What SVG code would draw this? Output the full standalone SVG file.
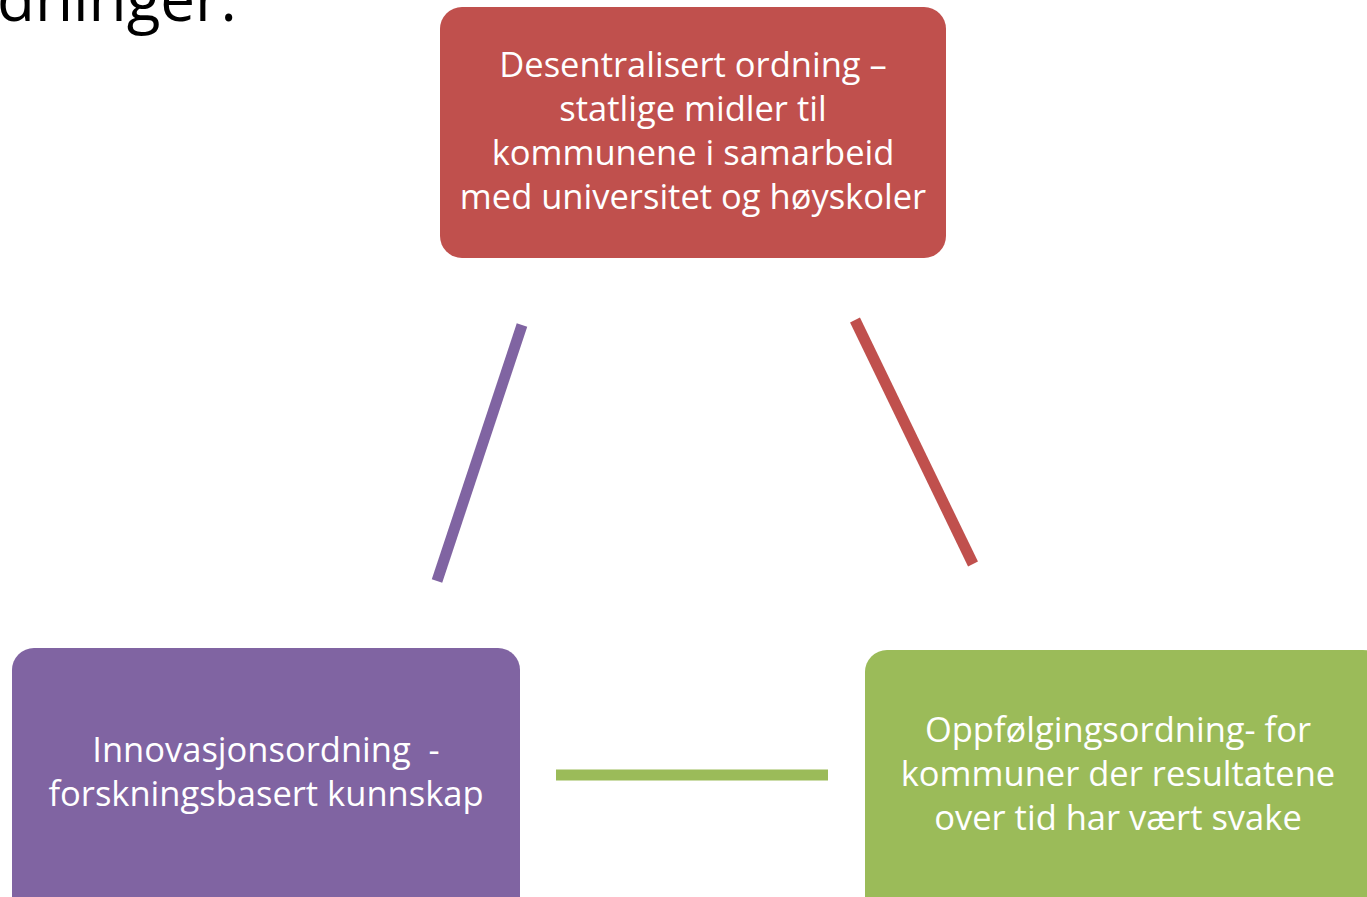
<svg xmlns="http://www.w3.org/2000/svg" width="1367" height="897" viewBox="0 0 1367 897">
<style>
.t{font-family:"Open Sans","Liberation Sans",sans-serif;font-size:34.5px;fill:#fff;text-anchor:middle;font-variant-ligatures:none}
.title{font-family:"Open Sans","Liberation Sans",sans-serif;font-size:62px;fill:#000}
.c{fill:none;stroke-width:11}
</style>
<rect width="1367" height="897" fill="#fff"/>
<text class="title" x="-3" y="21">dninger.</text>
<g id="connectors">
<line class="c" x1="522" y1="325" x2="437" y2="581" stroke="#8064A2"/>
<line class="c" x1="855" y1="320" x2="973" y2="564" stroke="#C0504D"/>
<line class="c" x1="556" y1="775" x2="828" y2="775" stroke="#9BBB59"/>
</g>
<g id="node-top">
<rect x="440" y="7" width="506" height="251" rx="22" fill="#C0504D"/>
<text class="t" x="693" y="77">Desentralisert ordning –</text>
<text class="t" x="693" y="121">statlige midler til</text>
<text class="t" x="693" y="165">kommunene i samarbeid</text>
<text class="t" x="693" y="209">med universitet og høyskoler</text>
</g>
<g id="node-left">
<rect x="12" y="648" width="508" height="270" rx="22" fill="#8064A2"/>
<text class="t" x="266" y="762" xml:space="preserve">Innovasjonsordning  -</text>
<text class="t" x="266" y="806">forskningsbasert kunnskap</text>
</g>
<g id="node-right">
<rect x="865" y="650" width="520" height="270" rx="22" fill="#9BBB59"/>
<text class="t" x="1118" y="742">Oppfølgingsordning- for</text>
<text class="t" x="1118" y="786">kommuner der resultatene</text>
<text class="t" x="1118" y="830">over tid har vært svake</text>
</g>
</svg>
